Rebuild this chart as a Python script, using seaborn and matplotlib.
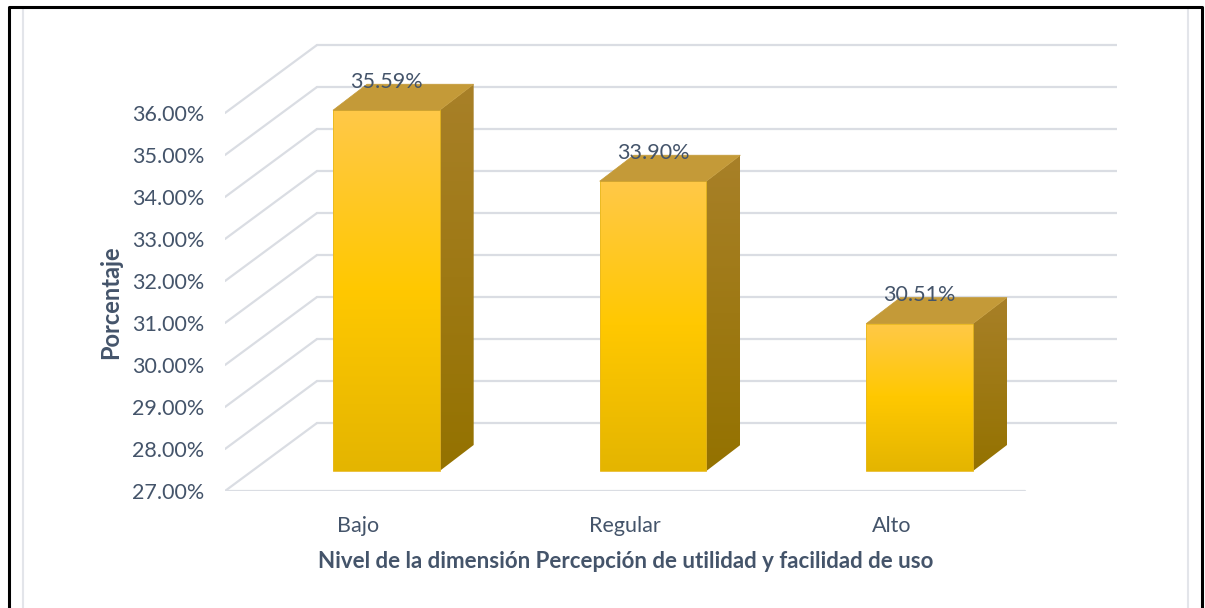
import matplotlib
import matplotlib.pyplot as plt
import numpy as np
import seaborn as sns
from matplotlib.lines import Line2D
from matplotlib.patches import Polygon

matplotlib.use('Agg')

# data
levels = ["Bajo", "Regular", "Alto"]
percent = [35.59, 33.90, 30.51]
label_text = ["35.59%", "33.90%", "30.51%"]
y_ticks = [27, 28, 29, 30, 31, 32, 33, 34, 35, 36]

x_title = "Nivel de la dimensión Percepción de utilidad y facilidad de uso"
y_title = "Porcentaje"

BASE = 27.0
TEXT = "#44546A"
GRID = "#DADDE3"

sns.set_theme(style="white")
plt.rcParams['font.family'] = ['Lato', 'DejaVu Sans']

W, H = 1205, 608
fig = plt.figure(figsize=(W / 100, H / 100), dpi=100)

# front plane of the 3d box: 27% at y=491px, 42 px per percent, 800 px for 3 categories
px_y = 42.0
px_x = 800 / 3
ax_left, ax_bottom = 225, H - 491
ax_w, ax_h = 892, 448
ax = fig.add_axes([ax_left / W, ax_bottom / H, ax_w / W, ax_h / H])
ax.patch.set_alpha(0)

# depth offsets (pixels -> data units)
back_dx, back_dy = 92 / px_x, 68 / px_y
bar_dx, bar_dy = 28 / px_x, 20 / px_y
side_dx, side_dy = 34 / px_x, 26 / px_y

# back wall + side wall grid
for t in y_ticks:
    ax.plot([-0.5, -0.5 + back_dx], [t, t + back_dy], color=GRID, lw=1.6, zorder=0)
    ax.plot([-0.5 + back_dx, 2.5 + back_dx], [t + back_dy, t + back_dy], color=GRID, lw=1.6, zorder=0)
ax.plot([-0.5, 2.5], [BASE, BASE], color=GRID, lw=1.6, zorder=0)

sns.barplot(x=levels, y=percent, width=0.4, color="#FFC800", ax=ax, zorder=3)

grad = np.linspace(0, 1, 256)[:, None]
top_c = np.array([255, 201, 72]) / 255
mid_c = np.array([255, 200, 0]) / 255
bot_c = np.array([228, 181, 0]) / 255
cols = np.where(grad < 0.5, top_c + (mid_c - top_c) * (grad / 0.5),
                mid_c + (bot_c - mid_c) * ((grad - 0.5) / 0.5))
img = cols.reshape(256, 1, 3)

side_grad = np.linspace(0, 1, 256)[:, None]
side_top = np.array([168, 128, 40]) / 255
side_bot = np.array([148, 114, 0]) / 255
side_img = (side_top + (side_bot - side_top) * side_grad).reshape(256, 1, 3)

for p, val, txt in zip(ax.patches, percent, label_text):
    x0 = p.get_x() + bar_dx
    w = p.get_width()
    y0 = BASE + bar_dy
    y1 = val + bar_dy
    p.set_x(x0)
    p.set_y(y0)
    p.set_height(val - BASE)
    p.set_facecolor("none")
    p.set_edgecolor("#E8B820")
    p.set_linewidth(0.6)
    ax.imshow(img, extent=[x0, x0 + w, y0, y1], aspect='auto', zorder=2, interpolation='bilinear')
    side = Polygon([(x0 + w, y0), (x0 + w + side_dx, y0 + side_dy), (x0 + w + side_dx, y1 + side_dy), (x0 + w, y1)],
                   closed=True, facecolor="none", edgecolor="none", zorder=2)
    ax.add_patch(side)
    im = ax.imshow(side_img, extent=[x0 + w, x0 + w + side_dx, y0, y1 + side_dy], aspect='auto', zorder=2,
                   interpolation='bilinear')
    im.set_clip_path(side)
    top = Polygon([(x0, y1), (x0 + w, y1), (x0 + w + side_dx, y1 + side_dy), (x0 + side_dx, y1 + side_dy)],
                  closed=True, facecolor="#C49A38", edgecolor="#C49A38", lw=0.5, zorder=3)
    ax.add_patch(top)
    ax.text(x0 + w / 2, y1 + side_dy + 0.05, txt, ha='center', va='center', fontsize=15.5, color=TEXT, zorder=5)

ax.set_xlim(-0.5, -0.5 + ax_w / px_x)
ax.set_ylim(BASE, BASE + ax_h / px_y)
ax.set_yticks(y_ticks)
ax.set_yticklabels([f"{t:.2f}%" for t in y_ticks])
ax.set_xticks(range(len(levels)))
ax.set_xticklabels(levels)
ax.tick_params(axis='both', length=0, labelsize=15.5, labelcolor=TEXT)
ax.tick_params(axis='y', pad=15)
ax.tick_params(axis='x', pad=18)
ax.set_xlabel("")
ax.set_ylabel("")
for s in ax.spines.values():
    s.set_visible(False)

fig.text(626 / W, 1 - 561 / H, x_title, ha='center', va='center', fontsize=16, fontweight='bold', color=TEXT)
fig.text(111 / W, 1 - 302 / H, y_title, ha='center', va='center', rotation=90, fontsize=17,
         fontweight='bold', color=TEXT)

# chart frame
fig.add_artist(Line2D([22.5 / W, 22.5 / W, 1187.5 / W, 1187.5 / W], [0, 1 - 7.5 / H, 1 - 7.5 / H, 0],
                      color="#E3E5EA", lw=1.5, transform=fig.transFigure))
fig.add_artist(Line2D([9 / W, 9 / W, 1202 / W, 1202 / W], [0, 1 - 6.5 / H, 1 - 6.5 / H, 0],
                      color="black", lw=2.2, transform=fig.transFigure))

fig.savefig("out.png", dpi=100)
